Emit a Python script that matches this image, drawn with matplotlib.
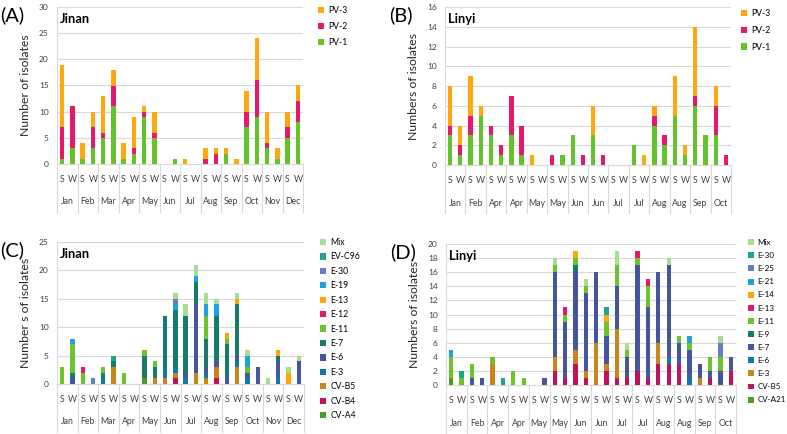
import numpy as np
import matplotlib
matplotlib.use("Agg")
import matplotlib.pyplot as plt
from matplotlib.transforms import blended_transform_factory

plt.rcParams['font.family'] = ['Lato', 'DejaVu Sans']

# ---- data ----
months_12 = ['Jan', 'Feb', 'Mar', 'Apr', 'May', 'Jun', 'Jul', 'Aug', 'Sep', 'Oct', 'Nov', 'Dec']
months_ly = ['Jan', 'Feb', 'Apr', 'Apr', 'May', 'May', 'Jun', 'Jun', 'Jul', 'Jul', 'Aug', 'Aug', 'Sep', 'Oct']

# (A) Jinan, PV types
pv1_a = [1, 3, 1, 3, 5, 11, 1, 2, 9, 5, 0, 1, 0, 0, 0, 0, 2, 0, 7, 9, 3, 1, 5, 8]
pv2_a = [6, 8, 0, 4, 1, 4, 0, 1, 1, 1, 0, 0, 0, 0, 1, 2, 0, 0, 3, 7, 1, 0, 2, 4]
pv3_a = [12, 0, 3, 3, 7, 3, 3, 6, 1, 4, 0, 0, 1, 0, 2, 1, 1, 1, 4, 8, 6, 2, 3, 3]

# (B) Linyi, PV types
pv1_b = [3, 1, 3, 5, 3, 1, 3, 1, 0, 0, 0, 1, 3, 0, 3, 0, 0, 0, 2, 0, 4, 2, 5, 1, 6, 3, 3, 0]
pv2_b = [1, 1, 2, 0, 1, 1, 4, 3, 0, 0, 1, 0, 0, 1, 0, 1, 0, 0, 0, 0, 1, 1, 0, 0, 1, 0, 3, 1]
pv3_b = [4, 2, 4, 1, 0, 0, 0, 0, 1, 0, 0, 0, 0, 0, 3, 0, 0, 0, 0, 1, 1, 0, 4, 1, 7, 0, 2, 0]

# (C) Jinan, NPEV types
types_c = ['CV-A4', 'CV-B4', 'CV-B5', 'E-3', 'E-6', 'E-7', 'E-11', 'E-12', 'E-13', 'E-19', 'E-30', 'EV-C96', 'Mix']
cva4_c = [0, 0, 0, 0, 0, 0, 0, 0, 1, 0, 0, 0, 0, 0, 0, 0, 0, 0, 0, 0, 0, 0, 0, 0]
cvb4_c = [0, 0, 0, 0, 0, 0, 0, 0, 0, 0, 0, 1, 0, 0, 0, 1, 0, 0, 0, 0, 0, 0, 0, 0]
cvb5_c = [0, 0, 0, 0, 0, 3, 0, 0, 0, 1, 1, 1, 0, 2, 1, 2, 0, 3, 0, 0, 0, 0, 0, 0]
e3_c = [0, 0, 0, 0, 1, 0, 0, 0, 0, 0, 2, 1, 1, 0, 1, 0, 0, 1, 1, 0, 0, 1, 0, 0]
e6_c = [0, 1, 0, 0, 0, 0, 0, 0, 0, 0, 0, 0, 1, 12, 1, 1, 1, 1, 1, 3, 0, 3, 0, 4]
e7_c = [0, 1, 0, 0, 1, 1, 0, 0, 4, 2, 9, 10, 10, 4, 5, 8, 6, 9, 0, 0, 0, 1, 0, 0]
e11_c = [3, 5, 2, 0, 1, 0, 2, 0, 1, 1, 0, 0, 0, 0, 4, 0, 1, 0, 1, 0, 0, 0, 0, 0]
e12_c = [0, 0, 1, 0, 0, 0, 0, 0, 0, 0, 0, 0, 0, 0, 0, 0, 0, 0, 0, 0, 0, 0, 0, 0]
e13_c = [0, 0, 0, 0, 0, 0, 0, 0, 0, 0, 0, 0, 0, 0, 0, 0, 1, 1, 0, 0, 0, 1, 2, 0]
e19_c = [0, 1, 0, 0, 0, 0, 0, 0, 0, 0, 0, 1, 0, 1, 2, 2, 0, 0, 2, 0, 0, 0, 0, 0]
e30_c = [0, 0, 0, 1, 0, 0, 0, 0, 0, 0, 0, 1, 0, 0, 0, 0, 0, 0, 0, 0, 0, 0, 0, 0]
evc96_c = [0, 0, 0, 0, 0, 1, 0, 0, 0, 0, 0, 0, 0, 0, 0, 0, 0, 0, 0, 0, 0, 0, 0, 0]
mix_c = [0, 0, 0, 0, 0, 0, 0, 0, 0, 0, 0, 1, 2, 2, 2, 1, 0, 1, 1, 0, 1, 0, 1, 1]

# (D) Linyi, NPEV types
types_d = ['CV-A21', 'CV-B5', 'E-3', 'E-6', 'E-7', 'E-9', 'E-11', 'E-13', 'E-14', 'E-21', 'E-25', 'E-30', 'Mix']
cva21_d = [1, 0, 0, 0, 0, 0, 0, 0, 0, 0, 0, 0, 0, 0, 0, 0, 0, 0, 0, 0, 0, 0, 0, 0, 0, 0, 0, 0]
cvb5_d = [0, 0, 0, 0, 0, 0, 0, 0, 0, 0, 2, 1, 3, 1, 0, 2, 1, 1, 2, 1, 3, 3, 3, 0, 0, 1, 0, 2]
e3_d = [0, 0, 0, 0, 3, 0, 0, 0, 0, 0, 2, 0, 2, 1, 6, 1, 7, 0, 0, 0, 3, 0, 0, 0, 1, 0, 0, 0]
e6_d = [0, 0, 0, 0, 0, 0, 0, 0, 0, 0, 0, 0, 0, 0, 0, 0, 0, 0, 0, 0, 0, 1, 0, 1, 0, 0, 0, 0]
e7_d = [0, 0, 1, 1, 0, 0, 0, 0, 0, 1, 12, 8, 11, 11, 10, 4, 6, 3, 15, 10, 10, 13, 3, 4, 2, 1, 2, 2]
e9_d = [0, 0, 0, 0, 0, 0, 0, 0, 0, 0, 0, 0, 1, 0, 0, 0, 0, 0, 0, 0, 0, 0, 0, 0, 0, 0, 0, 0]
e11_d = [3, 1, 2, 0, 1, 0, 2, 1, 0, 0, 1, 1, 1, 1, 0, 2, 3, 1, 1, 3, 0, 0, 1, 1, 0, 2, 2, 0]
e13_d = [0, 0, 0, 0, 0, 0, 0, 0, 0, 0, 0, 1, 0, 0, 0, 0, 0, 0, 1, 1, 0, 0, 0, 0, 0, 0, 0, 0]
e14_d = [0, 0, 0, 0, 0, 0, 0, 0, 0, 0, 0, 0, 1, 0, 0, 1, 0, 0, 0, 0, 0, 0, 0, 0, 0, 0, 0, 0]
e21_d = [1, 0, 0, 0, 0, 0, 0, 0, 0, 0, 0, 0, 0, 0, 0, 0, 0, 0, 0, 0, 0, 0, 0, 1, 0, 0, 0, 0]
e25_d = [0, 0, 0, 0, 0, 0, 0, 0, 0, 0, 0, 0, 0, 0, 0, 0, 0, 0, 0, 0, 0, 0, 0, 0, 0, 0, 2, 0]
e30_d = [0, 1, 0, 0, 0, 1, 0, 0, 0, 0, 0, 0, 0, 0, 0, 1, 0, 0, 0, 0, 0, 0, 0, 0, 0, 0, 0, 0]
mix_d = [0, 0, 0, 0, 0, 0, 0, 0, 0, 0, 1, 0, 0, 1, 0, 0, 2, 1, 0, 0, 0, 1, 0, 0, 0, 0, 1, 0]

# ---- styles ----
pv_colors = ['#66c22b', '#e6186c', '#ffa70f']
ev_colors = ['#4f9a2a', '#c0125a', '#c98618', '#0f7aa8', '#46559f', '#177b6c', '#6cc42c',
             '#e8176b', '#ffa50a', '#1da1e2', '#6a7cc9', '#1fa58c', '#a9dc8e']
grey = '#d9d9d9'
W, H = 787, 434

fig = plt.figure(figsize=(W / 100, H / 100), dpi=100)


def panel(rect, series, names, colors, months, ymax, ystep, ylabel, title,
          letter, leg_xy, leg_space, leg_fs=6.2):
    l, r, t, b = rect
    ax = fig.add_axes([l / W, 1 - b / H, (r - l) / W, (b - t) / H])
    hpx = b - t
    n = len(series[0])
    x = np.arange(n)
    bottom = np.zeros(n)
    handles = []
    for vals, name, col in zip(series, names, colors):
        bars = ax.bar(x, vals, 0.42, bottom=bottom, color=col, label=name, zorder=3)
        bottom += np.array(vals)
        handles.append(bars)
    ax.set_xlim(-0.5, n - 0.5)
    ax.set_ylim(0, ymax)
    ax.set_yticks(np.arange(0, ymax + 1, ystep))
    ax.yaxis.grid(True, color=grey, lw=0.8)
    ax.set_axisbelow(True)
    for s in ['top', 'right']:
        ax.spines[s].set_visible(False)
    ax.spines['left'].set_color(grey)
    ax.spines['bottom'].set_color(grey)
    ax.tick_params(axis='y', length=0, labelsize=6, labelcolor='#404040', pad=6)
    ax.set_xticks(x, ['S', 'W'] * (n // 2))
    ax.tick_params(axis='x', length=0, labelsize=6.3, labelcolor='#404040', pad=8)
    trans = blended_transform_factory(ax.transData, ax.transAxes)
    for i, m in enumerate(months):
        ax.text(2 * i + 0.5, -38 / hpx, m, transform=trans, ha='center', va='center',
                fontsize=6.3, color='#404040')
    for k in range(len(months) + 1):
        ax.plot([2 * k - 0.5] * 2, [0, -48 / hpx], transform=trans, color=grey,
                lw=0.8, clip_on=False)
    ax.set_ylabel(ylabel, fontsize=8.8, color='#262626', labelpad=6)
    fig.text((l + 3) / W, 1 - (t + 12) / H, title, fontsize=9.3, fontweight='bold',
             va='center', ha='left')
    fig.text(0 if l < 100 else (l - 56) / W, 1 - (t + 8) / H, letter, fontsize=14.5,
             va='center', ha='left')
    ax.legend(handles[::-1], names[::-1], loc='upper left', frameon=False,
              bbox_to_anchor=(leg_xy[0] / W, 1 - leg_xy[1] / H),
              bbox_transform=fig.transFigure, fontsize=leg_fs, borderpad=0,
              handlelength=0.75, handleheight=0.75, handletextpad=0.45,
              labelspacing=leg_space, borderaxespad=0)
    return ax


panel((57, 303, 7, 164), [pv1_a, pv2_a, pv3_a], ['PV-1', 'PV-2', 'PV-3'], pv_colors,
      months_12, 30, 5, 'Number of isolates', 'Jinan', '(A)', (318, 6), 0.8)
panel((445, 731, 7, 165), [pv1_b, pv2_b, pv3_b], ['PV-1', 'PV-2', 'PV-3'], pv_colors,
      months_ly, 16, 2, 'Numbers of isolates', 'Linyi', '(B)', (741, 9), 0.9)
panel((57, 304, 242, 384),
      [cva4_c, cvb4_c, cvb5_c, e3_c, e6_c, e7_c, e11_c, e12_c, e13_c, e19_c, e30_c, evc96_c, mix_c],
      types_c, ev_colors, months_12, 25, 5, 'Number s of isolates', 'Jinan', '(C)',
      (320, 238), 0.63)
panel((446, 736, 244, 385),
      [cva21_d, cvb5_d, e3_d, e6_d, e7_d, e9_d, e11_d, e13_d, e14_d, e21_d, e25_d, e30_d, mix_d],
      types_d, ev_colors, months_ly, 20, 2, 'Numbers of isolates', 'Linyi', '(D)',
      (748, 239), 0.76, leg_fs=5.8)

fig.savefig('out.png', dpi=100)
